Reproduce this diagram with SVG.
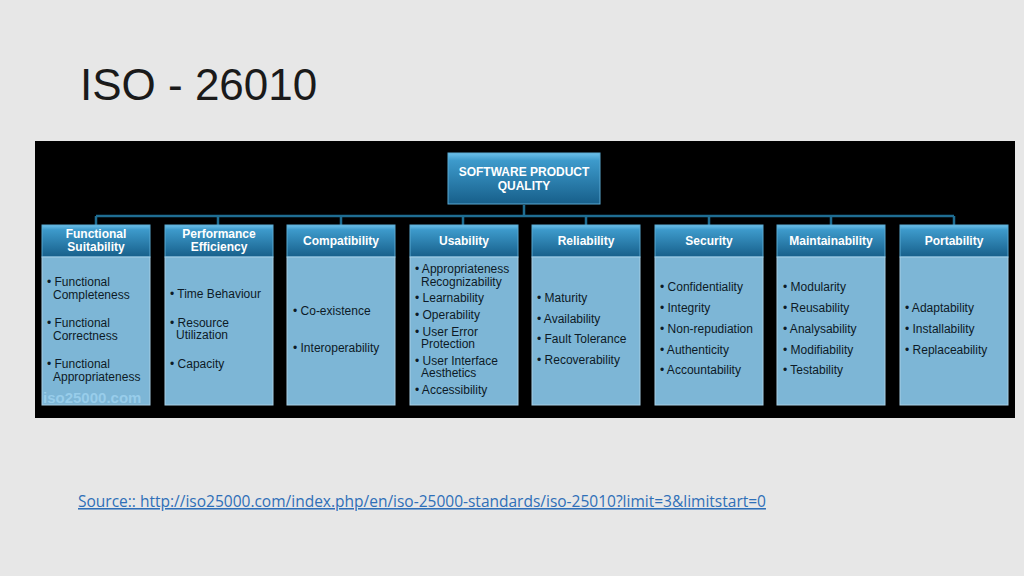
<svg xmlns="http://www.w3.org/2000/svg" width="1024" height="576" viewBox="0 0 1024 576">
<defs>
<linearGradient id="hg" x1="0" y1="0" x2="0" y2="1"><stop offset="0" stop-color="#6cc0ea"/><stop offset="0.15" stop-color="#3d9acb"/><stop offset="1" stop-color="#175f8a"/></linearGradient>
</defs>
<style>
.hd{fill:url(#hg);stroke:#5aa9d2;stroke-width:1}
.bd{fill:#7db6d6;stroke:#a9d0e6;stroke-width:1}
.ht{font-family:"Liberation Sans",Arial,sans-serif;font-weight:bold;font-size:12px;fill:#fff;text-anchor:middle}
.bt{font-family:"Liberation Sans",Arial,sans-serif;font-size:12px;fill:#0d1a26}
.cn{stroke:#1f6d92;stroke-width:2.5;fill:none}
</style>
<rect width="1024" height="576" fill="#e7e7e7"/>
<text x="80" y="100" font-family="Liberation Sans,Arial,sans-serif" font-size="44" fill="#1a1a1a">ISO - 26010</text>
<rect x="35" y="141" width="980" height="277" fill="#000"/>
<g id="connectors">
<path class="cn" d="M524 205V216M96 216H954M96 216V225M218 216V225M341 216V225M463 216V225M586 216V225M709 216V225M831 216V225M954 216V225"/>
</g>
<g id="root">
<rect class="hd" x="448" y="153" width="152" height="51"/>
<text class="ht" x="524" y="176">SOFTWARE PRODUCT</text>
<text class="ht" x="524" y="190">QUALITY</text>
</g>
<g id="n1"><rect class="hd" x="42" y="225" width="108" height="32"/><text class="ht" x="96" y="238">Functional</text><text class="ht" x="96" y="251">Suitability</text>
<rect class="bd" x="42" y="257" width="108" height="148"/>
<text class="bt" x="47" y="286">• Functional</text><text class="bt" x="53" y="299">Completeness</text>
<text class="bt" x="47" y="327">• Functional</text><text class="bt" x="53" y="340">Correctness</text>
<text class="bt" x="47" y="368">• Functional</text><text class="bt" x="53" y="381">Appropriateness</text>
<text x="43" y="403" font-family="Liberation Sans,Arial,sans-serif" font-weight="bold" font-size="15" fill="#9fd3f0" opacity="0.8">iso25000.com</text></g>
<g id="n2"><rect class="hd" x="165" y="225" width="108" height="32"/><text class="ht" x="219" y="238">Performance</text><text class="ht" x="219" y="251">Efficiency</text>
<rect class="bd" x="165" y="257" width="108" height="148"/>
<text class="bt" x="170" y="298">• Time Behaviour</text>
<text class="bt" x="170" y="327">• Resource</text><text class="bt" x="176" y="339">Utilization</text>
<text class="bt" x="170" y="368">• Capacity</text></g>
<g id="n3"><rect class="hd" x="287" y="225" width="108" height="32"/><text class="ht" x="341" y="245">Compatibility</text>
<rect class="bd" x="287" y="257" width="108" height="148"/>
<text class="bt" x="293" y="315">• Co-existence</text>
<text class="bt" x="293" y="352">• Interoperability</text></g>
<g id="n4"><rect class="hd" x="410" y="225" width="108" height="32"/><text class="ht" x="464" y="245">Usability</text>
<rect class="bd" x="410" y="257" width="108" height="148"/>
<text class="bt" x="415" y="273">• Appropriateness</text><text class="bt" x="421" y="286">Recognizability</text>
<text class="bt" x="415" y="302">• Learnability</text>
<text class="bt" x="415" y="319">• Operability</text>
<text class="bt" x="415" y="336">• User Error</text><text class="bt" x="421" y="348">Protection</text>
<text class="bt" x="415" y="365">• User Interface</text><text class="bt" x="421" y="377">Aesthetics</text>
<text class="bt" x="415" y="394">• Accessibility</text></g>
<g id="n5"><rect class="hd" x="532" y="225" width="108" height="32"/><text class="ht" x="586" y="245">Reliability</text>
<rect class="bd" x="532" y="257" width="108" height="148"/>
<text class="bt" x="537" y="302">• Maturity</text>
<text class="bt" x="537" y="323">• Availability</text>
<text class="bt" x="537" y="343">• Fault Tolerance</text>
<text class="bt" x="537" y="364">• Recoverability</text></g>
<g id="n6"><rect class="hd" x="655" y="225" width="108" height="32"/><text class="ht" x="709" y="245">Security</text>
<rect class="bd" x="655" y="257" width="108" height="148"/>
<text class="bt" x="660" y="291">• Confidentiality</text>
<text class="bt" x="660" y="312">• Integrity</text>
<text class="bt" x="660" y="333">• Non-repudiation</text>
<text class="bt" x="660" y="354">• Authenticity</text>
<text class="bt" x="660" y="374">• Accountability</text></g>
<g id="n7"><rect class="hd" x="777" y="225" width="108" height="32"/><text class="ht" x="831" y="245">Maintainability</text>
<rect class="bd" x="777" y="257" width="108" height="148"/>
<text class="bt" x="783" y="291">• Modularity</text>
<text class="bt" x="783" y="312">• Reusability</text>
<text class="bt" x="783" y="333">• Analysability</text>
<text class="bt" x="783" y="354">• Modifiability</text>
<text class="bt" x="783" y="374">• Testability</text></g>
<g id="n8"><rect class="hd" x="900" y="225" width="108" height="32"/><text class="ht" x="954" y="245">Portability</text>
<rect class="bd" x="900" y="257" width="108" height="148"/>
<text class="bt" x="905" y="312">• Adaptability</text>
<text class="bt" x="905" y="333">• Installability</text>
<text class="bt" x="905" y="354">• Replaceability</text></g>
<text x="78" y="507" font-family="Open Sans,Liberation Sans,sans-serif" font-size="15.5" fill="#2f6fb8" text-decoration="underline">Source:: http://iso25000.com/index.php/en/iso-25000-standards/iso-25010?limit=3&amp;limitstart=0</text>
</svg>
